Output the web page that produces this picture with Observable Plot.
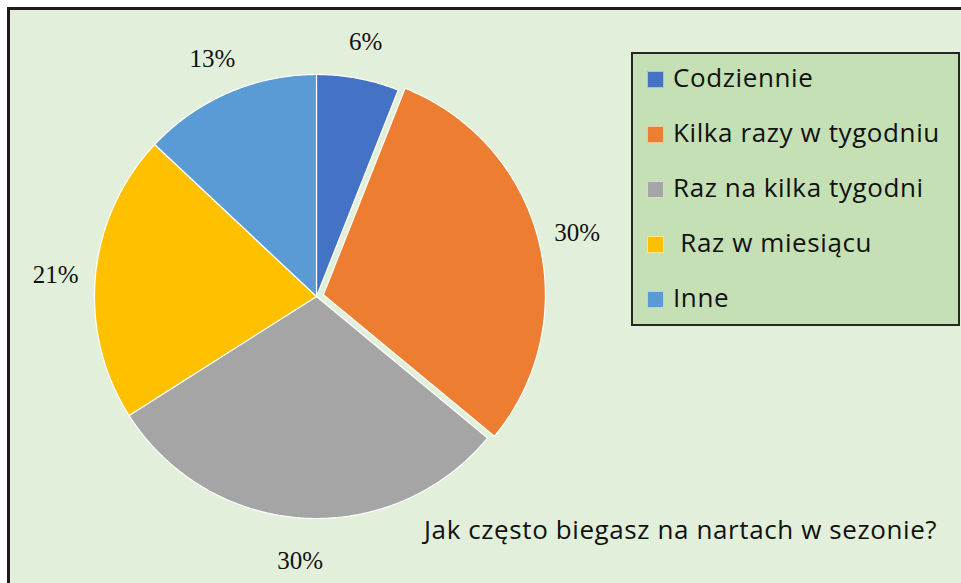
<!DOCTYPE html>
<html>
<head>
<meta charset="utf-8">
<script src="https://cdn.jsdelivr.net/npm/d3@7"></script>
<script src="https://cdn.jsdelivr.net/npm/@observablehq/plot@0.6"></script>
<style>
  html, body { margin: 0; padding: 0; background: #ffffff; }
  #wrap { position: relative; width: 961px; height: 583px; overflow: hidden; }
  #frame { position: absolute; left: 7px; top: 7px; right: -5px; bottom: -5px;
           border-top: 3px solid #1c1c1c; border-left: 3px solid #1c1c1c; background: #e2efda; }
  #chart { position: absolute; left: 0; top: 0; }
  #legend { position: absolute; left: 631px; top: 52px; width: 325px; height: 270px;
            border: 2px solid #262626; background: #c5e0b4; }
  #legend .items { position: absolute; left: 0; top: -4px; }
  #legend .item { height: 55px; line-height: 55px; font-family: "Open Sans", sans-serif; font-size: 26px;
                  letter-spacing: 0.6px; color: #111; white-space: pre; position: relative; padding-left: 40px; }
  #legend .sw { position: absolute; left: 14px; top: 21px; width: 15px; height: 15px;
                border: 1px solid rgba(255,255,255,0.55); }
  #title { position: absolute; left: 424px; top: 514px; line-height: 30px; font-family: "Open Sans", sans-serif;
           font-size: 26px; letter-spacing: 0.6px; color: #111; white-space: nowrap; }
</style>
</head>
<body>
<div id="wrap">
  <div id="frame"></div>
  <div id="chart"></div>
  <div id="legend"></div>
  <div id="title"></div>
</div>
<script>
// ---- data ----
const categories = ["Codziennie", "Kilka razy w tygodniu", "Raz na kilka tygodni", " Raz w miesiącu", "Inne"];
const values = [6, 30, 30, 21, 13];
const labels = ["6%", "30%", "30%", "21%", "13%"];
const colors = ["#4472c4", "#ed7d31", "#a5a5a5", "#ffc000", "#5b9bd5"];
const title = "Jak często biegasz na nartach w sezonie?";

// ---- geometry (derived from values) ----
const explodedIndex = 1;
const explode = 0.032;   // fraction of radius
const labelR = 1.18;
const total = d3.sum(values);
const slices = [];
const labelRows = [];
let acc = 0;
values.forEach((v, i) => {
  const a0 = acc / total * 2 * Math.PI;
  acc += v;
  const a1 = acc / total * 2 * Math.PI;
  const mid = (a0 + a1) / 2;
  const off = i === explodedIndex ? explode : 0;
  const ox = off * Math.sin(mid), oy = off * Math.cos(mid);
  const key = categories[i];
  slices.push({key, x: ox, y: oy});
  const n = Math.max(2, Math.ceil((a1 - a0) / (Math.PI / 360)));
  for (let k = 0; k <= n; k++) {
    const a = a0 + (a1 - a0) * k / n;
    slices.push({key, x: ox + Math.sin(a), y: oy + Math.cos(a)});
  }
  slices.push({key, x: ox, y: oy});
  labelRows.push({label: labels[i], x: ox + labelR * Math.sin(mid), y: oy + labelR * Math.cos(mid)});
});

const cx = 316, cy = 296, r = 222;
const plot = Plot.plot({
  width: 961,
  height: 583,
  margin: 0,
  style: {background: "transparent"},
  x: {domain: [-1, 1], range: [cx - r, cx + r], axis: null},
  y: {domain: [-1, 1], range: [cy + r, cy - r], axis: null},
  color: {domain: categories, range: colors},
  marks: [
    Plot.line(slices, {x: "x", y: "y", z: "key", fill: "key", stroke: "white", strokeWidth: 1.2, strokeLinejoin: "round"}),
    Plot.text(labelRows, {x: "x", y: "y", text: "label", dy: 3, fontSize: 25, fontFamily: "Liberation Serif, Times New Roman, serif", fill: "#111"})
  ]
});
document.getElementById("chart").appendChild(plot);

// legend
const leg = document.getElementById("legend");
const items = document.createElement("div");
items.className = "items";
categories.forEach((c, i) => {
  const it = document.createElement("div");
  it.className = "item";
  const sw = document.createElement("span");
  sw.className = "sw";
  sw.style.background = colors[i];
  it.appendChild(sw);
  it.appendChild(document.createTextNode(c));
  items.appendChild(it);
});
leg.appendChild(items);
document.getElementById("title").textContent = title;
</script>
</body>
</html>
